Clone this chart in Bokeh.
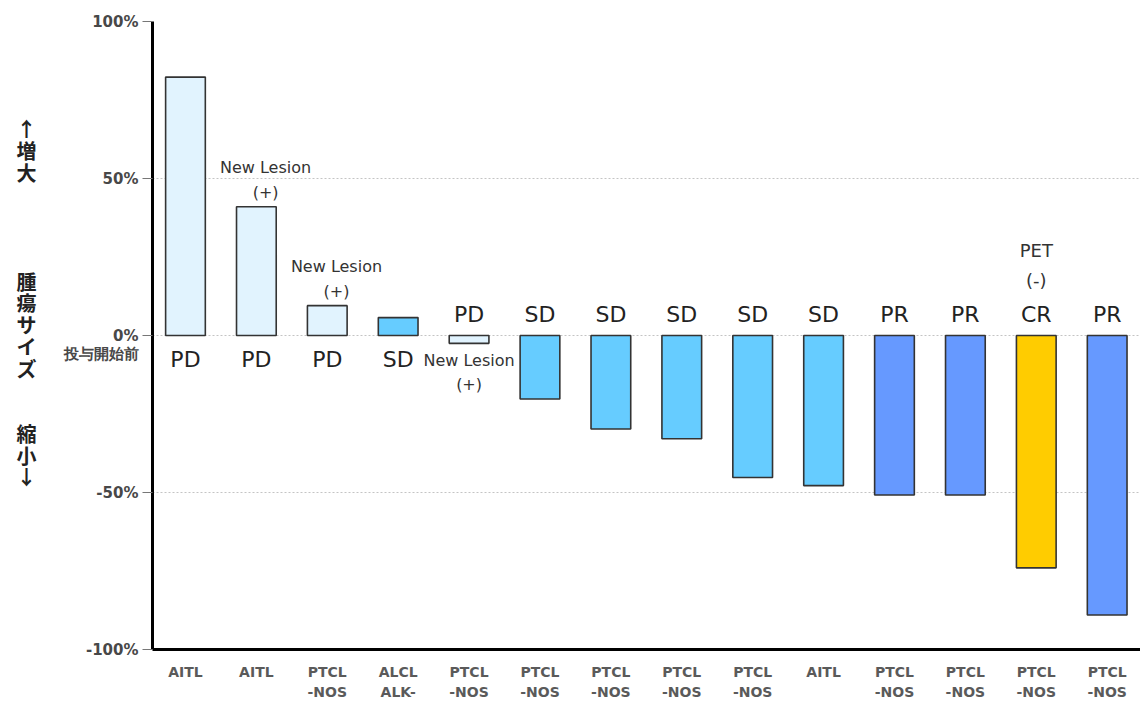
from bokeh.plotting import figure
from bokeh.models import ColumnDataSource, FixedTicker, Label
from bokeh.embed import file_html
from bokeh.resources import INLINE
from bokeh.core.properties import value

# ---- data ----
subtypes = ["AITL", "AITL", "PTCL\n-NOS", "ALCL\nALK-", "PTCL\n-NOS", "PTCL\n-NOS", "PTCL\n-NOS",
            "PTCL\n-NOS", "PTCL\n-NOS", "AITL", "PTCL\n-NOS", "PTCL\n-NOS", "PTCL\n-NOS", "PTCL\n-NOS"]
change_pct = [82.3, 41.0, 9.5, 5.7, -2.5, -20.2, -29.8, -32.9, -45.2, -47.8, -50.8, -50.8, -74.0, -89.0]
response = ["PD", "PD", "PD", "SD", "PD", "SD", "SD", "SD", "SD", "SD", "PR", "PR", "CR", "PR"]
note_idx = [2, 3, 5, 13]
note_text = ["New Lesion\n(+)", "New Lesion\n(+)", "New Lesion\n(+)", "PET\n(-)"]
y_ticks = [-100, -50, 0, 50, 100]
y_tick_labels = ["-100%", "-50%", " \n0%\n投与開始前", "50%", "100%"]
side_label = ["↑", "増", "大", " ", " ", " ", " ", "腫", "瘍", "サ", "イ", "ズ", " ", " ", "縮", "小", "↓",
              " ", " ", " "]

resp_colors = {"PD": "#E1F3FE", "SD": "#66CCFF", "PR": "#6699FF", "CR": "#FFCC00"}

xs = list(range(1, len(change_pct) + 1))
src = ColumnDataSource(dict(x=xs, top=change_pct,
                            color=[resp_colors[r] for r in response]))

p = figure(width=1140, height=703, output_backend="svg", toolbar_location=None,
           x_range=(0.535, 14.47), y_range=(-100, 100),
           min_border_left=152, min_border_right=0, min_border_top=21, min_border_bottom=10)
p.outline_line_color = None
p.background_fill_color = "white"

p.vbar(x="x", top="top", bottom=0, width=0.56, source=src,
       fill_color="color", line_color="#333333", line_width=1.6)

# response labels
font = value("DejaVu Sans")
pos_x = [x for x, v in zip(xs, change_pct) if v >= 0]
pos_t = [r for r, v in zip(response, change_pct) if v >= 0]
neg_x = [x for x, v in zip(xs, change_pct) if v < 0]
neg_t = [r for r, v in zip(response, change_pct) if v < 0]
p.text(x=pos_x, y=[0] * len(pos_x), text=pos_t, text_font=font, text_font_size="22px",
       text_color="#222222", text_align="center", text_baseline="top", y_offset=11)
p.text(x=neg_x, y=[0] * len(neg_x), text=neg_t, text_font=font, text_font_size="22px",
       text_color="#222222", text_align="center", text_baseline="bottom", y_offset=-9)

# notes
for i, t in zip(note_idx, note_text):
    v = change_pct[i - 1]
    if t.startswith("PET"):
        lab = Label(x=i, y=0, text=t, text_font="DejaVu Sans", text_font_size="18px",
                    text_color="#333333", text_align="center", text_baseline="bottom",
                    text_line_height=1.45, y_offset=44)
    elif v > 0:
        lab = Label(x=i + 0.13, y=v, text=t, text_font="DejaVu Sans", text_font_size="16px",
                    text_color="#333333", text_align="center", text_baseline="bottom",
                    text_line_height=1.3, y_offset=5)
    else:
        lab = Label(x=i, y=0, text=t, text_font="DejaVu Sans", text_font_size="16px",
                    text_color="#333333", text_align="center", text_baseline="top",
                    text_line_height=1.3, y_offset=-15)
    p.add_layout(lab)

# axes
p.yaxis.ticker = FixedTicker(ticks=y_ticks)
p.yaxis.major_label_overrides = {t: l for t, l in zip(y_ticks, y_tick_labels)}
p.yaxis.axis_line_width = 3
p.yaxis.axis_line_color = "black"
p.yaxis.major_tick_line_color = "#777777"
p.yaxis.major_tick_out = 10
p.yaxis.major_tick_in = 0
p.yaxis.minor_tick_line_color = None
p.yaxis.major_label_text_font = "DejaVu Sans"
p.yaxis.major_label_text_font_size = "15px"
p.yaxis.major_label_text_font_style = "bold"
p.yaxis.major_label_text_color = "#484848"
p.yaxis.major_label_standoff = 4
p.yaxis.major_label_text_line_height = 1.0
p.yaxis.axis_label = "\n".join(side_label)
p.yaxis.axis_label_orientation = "horizontal"
p.yaxis.axis_label_text_font = "Noto Sans CJK JP"
p.yaxis.axis_label_text_font_size = "20px"
p.yaxis.axis_label_text_font_style = "bold"
p.yaxis.axis_label_text_color = "#222222"
p.yaxis.axis_label_text_line_height = 0.75
p.yaxis.axis_label_standoff = 24

p.xaxis.ticker = FixedTicker(ticks=xs)
p.xaxis.major_label_overrides = {x: s for x, s in zip(xs, subtypes)}
p.xaxis.axis_line_width = 3
p.xaxis.axis_line_color = "black"
p.xaxis.major_tick_line_color = None
p.xaxis.minor_tick_line_color = None
p.xaxis.major_label_text_font = "DejaVu Sans"
p.xaxis.major_label_text_font_size = "14px"
p.xaxis.major_label_text_font_style = "bold"
p.xaxis.major_label_text_color = "#5a5a5a"
p.xaxis.major_label_standoff = 8
p.xaxis.major_label_text_line_height = 1.3

p.xgrid.grid_line_color = None
p.ygrid.ticker = FixedTicker(ticks=[-50, 0, 50, 100])
p.ygrid.grid_line_color = "#c4c4c4"
p.ygrid.grid_line_dash = "2 2"
p.ygrid.grid_line_width = 1

open("out.html", "w").write(file_html(p, INLINE))
